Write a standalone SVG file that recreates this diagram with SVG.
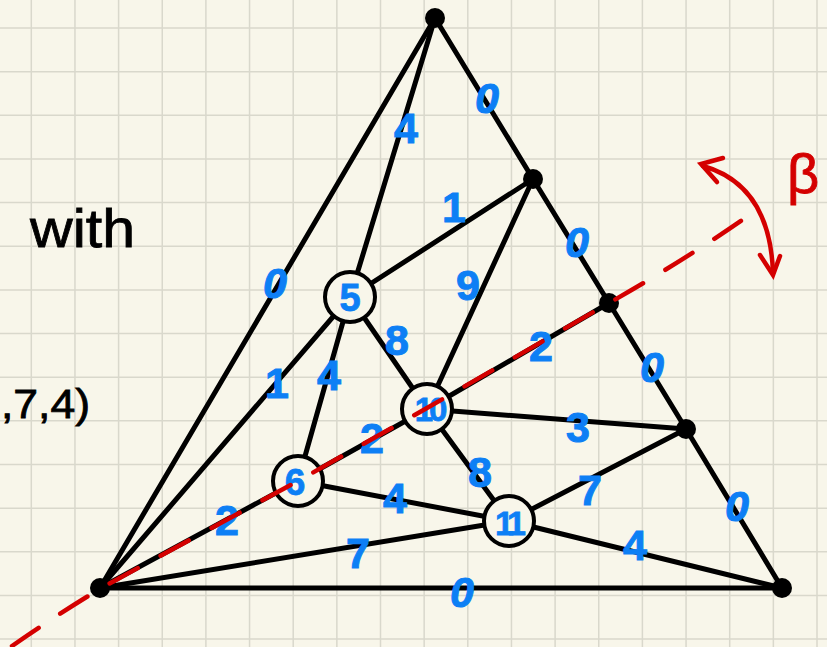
<svg xmlns="http://www.w3.org/2000/svg" width="827" height="647" viewBox="0 0 827 647">
<defs>
<style>
.grid{stroke:#d9d8cc;stroke-width:1.5;fill:none}
.edge{stroke:#000;stroke-width:5;stroke-linecap:round;fill:none}
.node{fill:#f8f6ea;stroke:#000;stroke-width:4}
.dot{fill:#000}
.lbl{fill:#0d7ff5;stroke:#0d7ff5;stroke-width:1;font-family:"Liberation Sans",Arial,sans-serif;font-weight:bold;font-size:43px;text-anchor:middle}
.zero{font-style:italic}
.nl{fill:#0d7ff5;stroke:#0d7ff5;stroke-width:0.8;font-family:"Liberation Sans",Arial,sans-serif;font-weight:bold;text-anchor:middle}
.red{stroke:#d40000;stroke-width:4.5;stroke-linecap:round;fill:none}
.hand{fill:#000;stroke:#000;stroke-width:0.8;font-family:"Liberation Sans",Arial,sans-serif}
</style>
</defs>
<rect width="827" height="647" fill="#f8f6ea"/>
<path class="grid" d="M31.3 0V647M74.95 0V647M118.6 0V647M162.25 0V647M205.9 0V647M249.55 0V647M293.2 0V647M336.85 0V647M380.5 0V647M424.15 0V647M467.8 0V647M511.45 0V647M555.1 0V647M598.75 0V647M642.4 0V647M686.05 0V647M729.7 0V647M773.35 0V647M817 0V647M0 28H827M0 71.65H827M0 115.3H827M0 158.95H827M0 202.6H827M0 246.25H827M0 289.9H827M0 333.55H827M0 377.2H827M0 420.85H827M0 464.5H827M0 508.15H827M0 551.8H827M0 595.45H827M0 639.1H827"/>

<g id="connectors">
<line class="edge" x1="435" y1="18" x2="100" y2="588"/>
<line class="edge" x1="435" y1="18" x2="533" y2="179"/>
<line class="edge" x1="533" y1="179" x2="609" y2="303"/>
<line class="edge" x1="609" y1="303" x2="686" y2="429"/>
<line class="edge" x1="686" y1="429" x2="782" y2="588"/>
<line class="edge" x1="100" y1="588" x2="782" y2="588"/>
<line class="edge" x1="435" y1="18" x2="350" y2="297"/>
<line class="edge" x1="350" y1="297" x2="533" y2="179"/>
<line class="edge" x1="533" y1="179" x2="427" y2="409"/>
<line class="edge" x1="350" y1="297" x2="427" y2="409"/>
<line class="edge" x1="350" y1="297" x2="100" y2="588"/>
<line class="edge" x1="350" y1="297" x2="298" y2="481"/>
<line class="edge" x1="427" y1="409" x2="609" y2="303"/>
<line class="edge" x1="427" y1="409" x2="686" y2="429"/>
<line class="edge" x1="427" y1="409" x2="298" y2="481"/>
<line class="edge" x1="427" y1="409" x2="509" y2="521"/>
<line class="edge" x1="298" y1="481" x2="100" y2="588"/>
<line class="edge" x1="298" y1="481" x2="509" y2="521"/>
<line class="edge" x1="509" y1="521" x2="686" y2="429"/>
<line class="edge" x1="509" y1="521" x2="782" y2="588"/>
<line class="edge" x1="509" y1="521" x2="100" y2="588"/>
</g>

<g id="node-top"><circle class="dot" cx="435" cy="18" r="10"/></g>
<g id="node-r1"><circle class="dot" cx="533" cy="179" r="10"/></g>
<g id="node-r2"><circle class="dot" cx="609" cy="303" r="10"/></g>
<g id="node-r3"><circle class="dot" cx="686" cy="429" r="10"/></g>
<g id="node-br"><circle class="dot" cx="782" cy="588" r="10"/></g>
<g id="node-bl"><circle class="dot" cx="100" cy="588" r="10"/></g>
<g id="node-5"><circle class="node" cx="350" cy="297" r="25"/><text class="nl" x="350" y="311" font-size="38">5</text></g>
<g id="node-10"><circle class="node" cx="427" cy="409" r="25"/><text class="nl" x="429" y="421" font-size="33" letter-spacing="-4">10</text></g>
<g id="node-6"><circle class="node" cx="298" cy="481" r="25"/><text class="nl" x="295" y="495" font-size="37">6</text></g>
<g id="node-11"><circle class="node" cx="509" cy="521" r="25"/><text class="nl" x="508" y="535" font-size="34" letter-spacing="-5">11</text></g>

<g id="edge-labels">
<text class="lbl zero" x="487" y="113">0</text>
<text class="lbl" x="406" y="143">4</text>
<text class="lbl" x="454" y="222">1</text>
<text class="lbl zero" x="577" y="257">0</text>
<text class="lbl" x="468" y="300">9</text>
<text class="lbl zero" x="275" y="298">0</text>
<text class="lbl" x="397" y="355">8</text>
<text class="lbl" x="329" y="390">4</text>
<text class="lbl" x="277" y="398">1</text>
<text class="lbl" x="541" y="361">2</text>
<text class="lbl zero" x="652" y="382">0</text>
<text class="lbl" x="578" y="442">3</text>
<text class="lbl" x="372" y="453">2</text>
<text class="lbl" x="480" y="487">8</text>
<text class="lbl" x="590" y="505">7</text>
<text class="lbl" x="395" y="513">4</text>
<text class="lbl zero" x="737" y="521">0</text>
<text class="lbl" x="227" y="535">2</text>
<text class="lbl" x="635" y="560">4</text>
<text class="lbl" x="358" y="568">7</text>
<text class="lbl zero" x="462" y="607">0</text>
</g>

<g id="beta-line">
<path class="red" stroke-dasharray="32 26" d="M12 646 Q58 614 103 587 L298 481 L427 408 L609 303 Q690 257 755 211"/>
<path class="red" d="M703 166 Q770 185 773 273"/>
<path class="red" d="M723 158 L701 164 L717 182"/>
<path class="red" d="M760 255 L773 275 L780 256"/>
<text x="803" y="193" fill="#d40000" stroke="#d40000" stroke-width="0.8" font-family="Liberation Sans,Arial,sans-serif" font-size="56" text-anchor="middle">β</text>
</g>

<g id="notes">
<text class="hand" x="30" y="247" font-size="54" textLength="105" lengthAdjust="spacingAndGlyphs">with</text>
<text class="hand" x="1" y="418" font-size="40" textLength="89" lengthAdjust="spacingAndGlyphs">,7,4)</text>
</g>
</svg>
